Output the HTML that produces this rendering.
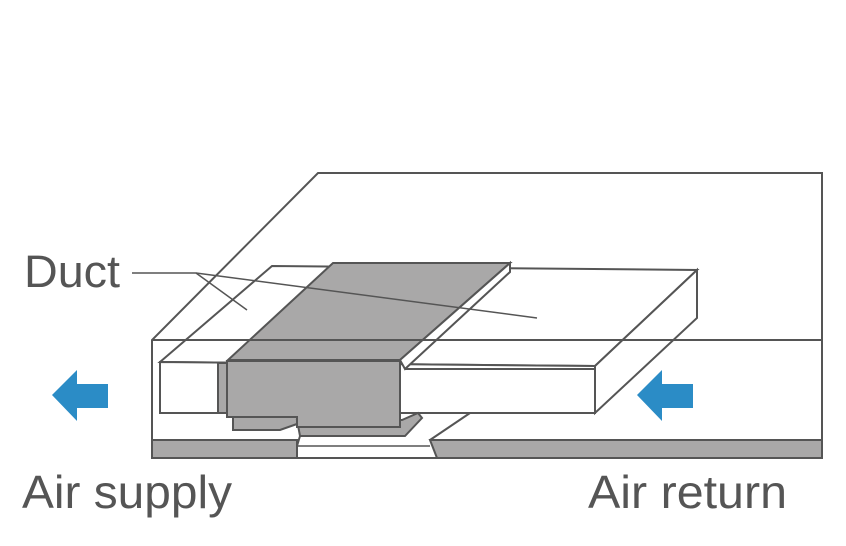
<!DOCTYPE html>
<html><head><style>
body{margin:0;background:#fff;}
svg{display:block;}
text{font-family:"Liberation Sans",Arial,sans-serif;fill:#555;}
</style></head><body>
<svg width="846" height="546" viewBox="0 0 846 546" xmlns="http://www.w3.org/2000/svg">
<g stroke="#555" stroke-width="2" fill="none" stroke-linejoin="miter">
  <!-- floor -->
  <polygon points="152,440 297,440 297,458 152,458" fill="#a9a8a8"/>
  <polygon points="430,440 822,440 822,458 437,458" fill="#a9a8a8"/>
  <line x1="297" y1="446" x2="430" y2="446" stroke-width="1.5"/>
  <line x1="297" y1="458" x2="437" y2="458"/>
  <!-- duct top face -->
  <polygon points="160,362 272,266 697,270 595,366 " fill="#fff"/>
  <!-- duct front face -->
  <polygon points="160,362 595,366 595,413 160,413" fill="#fff"/>
  <polygon points="595,366 697,270 697,318 595,413" fill="#fff"/>
  <line x1="405" y1="369" x2="595" y2="369"/>
  <line x1="430" y1="440" x2="470" y2="413"/>
  <!-- small strip -->
  <rect x="218" y="363" width="10" height="50" fill="#a9a8a8"/>
  <!-- gray unit top -->
  <polygon points="228,360 333,263 510,263 400,360" fill="#a9a8a8"/>
  <polygon points="400,360 510,263 510,272 405,369" fill="#fff"/>
  <!-- lower tabs -->
  <polygon points="233,416 297,416 297,424 280,430 233,430" fill="#a9a8a8"/>
  <polygon points="297,420 402,420 418,413 422,418 405,436 300,436" fill="#a9a8a8"/>
  <!-- gray front face -->
  <polygon points="227,361 400,361 400,427 297,427 297,417 227,417" fill="#a9a8a8"/>
  <line x1="300" y1="436" x2="297" y2="446"/>
  <!-- outer room box drawn on top (see-through) -->
  <polyline points="152,458 152,340 318,173 822,173 822,458"/>
  <line x1="152" y1="340" x2="822" y2="340"/>
  <!-- duct leader lines -->
  <polyline points="132,273 196,273 247,310" stroke-width="1.5"/>
  <line x1="196" y1="273" x2="537" y2="318" stroke-width="1.5"/>
</g>
<!-- arrows -->
<polygon points="52,395 77,370 77,384 108,384 108,408 77,408 77,421" fill="#2b8cc6"/>
<polygon points="637,395 662,370 662,384 693,384 693,408 662,408 662,421" fill="#2b8cc6"/>
<text x="24" y="287" font-size="45" textLength="96" lengthAdjust="spacingAndGlyphs">Duct</text>
<text x="22" y="508" font-size="46" textLength="210" lengthAdjust="spacingAndGlyphs">Air supply</text>
<text x="588" y="508" font-size="46" textLength="199" lengthAdjust="spacingAndGlyphs">Air return</text>
</svg>
</body></html>
